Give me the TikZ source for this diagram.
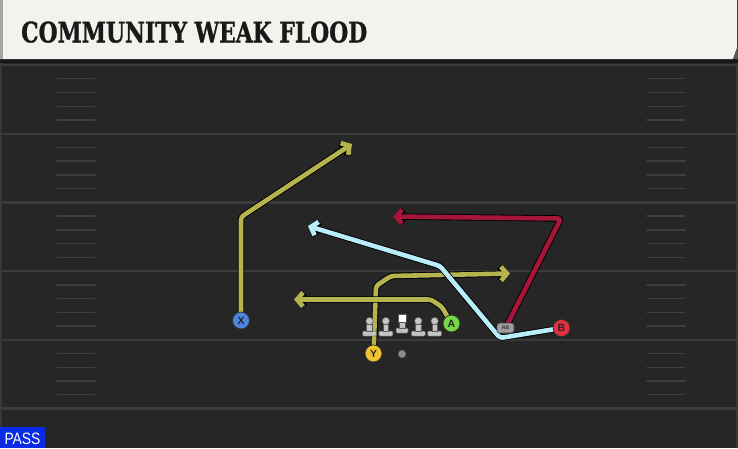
\documentclass[tikz,border=0pt]{standalone}
\usepackage{fontspec}
\setmainfont{Liberation Sans}
\newfontfamily\titlefont[FakeBold=1.2]{DejaVu Serif}
\usetikzlibrary{arrows.meta}
\pgfdeclarelayer{field}
\pgfdeclarelayer{routes}
\pgfsetlayers{field,routes,main}
\definecolor{fieldbg}{HTML}{262626}
\definecolor{shadowc}{HTML}{171717}
\definecolor{bannerc}{HTML}{F4F2EC}
\definecolor{yardc}{HTML}{3B3B3B}
\definecolor{hashc}{HTML}{3E3E3E}
\definecolor{oliveroute}{HTML}{B6B44E}
\definecolor{cyanroute}{HTML}{B8EEFA}
\definecolor{redroute}{HTML}{A6163A}
\definecolor{xblue}{HTML}{4A86E2}
\definecolor{yyellow}{HTML}{F2C230}
\definecolor{agreen}{HTML}{74D848}
\definecolor{bred}{HTML}{E5303F}
\definecolor{passblue}{HTML}{0A2BE6}
\definecolor{linefill}{HTML}{C4C4C4}
\tikzset{
  route/.style={line width=4.6pt, line join=round, rounded corners=3pt,
    -{Straight Barb[length=6pt,width=14pt]},
    preaction={draw=black, line width=6.4pt}},
  player/.style={circle, minimum size=17pt, inner sep=0pt, draw=black!80,
    line width=0.8pt, font=\bfseries\fontsize{10.5}{10.5}\selectfont, text=black!85},
  yard/.style={draw=yardc, line width=2.2pt},
  hash/.style={draw=hashc, line width=1.4pt, line cap=round},
  lineman/.pic={
    \filldraw[fill=linefill, draw=black!65, line width=0.5pt, rounded corners=1pt]
      (-7,0) rectangle (7,5);
    \filldraw[fill=linefill, draw=black!65, line width=0.5pt] (-2.8,-7) rectangle (2.8,0.3);
    \filldraw[fill=linefill, draw=black!65, line width=0.5pt] (0,-10) circle (3.7pt);
  },
  centerman/.pic={
    \filldraw[fill=linefill, draw=black!65, line width=0.5pt, rounded corners=1pt]
      (-6,0) rectangle (6,5);
    \filldraw[fill=linefill, draw=black!65, line width=0.5pt] (-2.8,-6) rectangle (2.8,0.3);
    \filldraw[fill=white, draw=black!65, line width=0.5pt] (-4.2,-14) rectangle (4.2,-6);
  }
}
\begin{document}
\begin{tikzpicture}[x=1pt,y=-1pt]
\useasboundingbox (0,0) rectangle (738,448);
\begin{pgfonlayer}{field}
  \fill[fieldbg] (0,0) rectangle (738,448);
  \fill[shadowc] (0,57) rectangle (738,63);
  \draw[draw=black!12!fieldbg!90!white, line width=1.5pt] (1,63) -- (1,448) (737,63) -- (737,448);
  \foreach \s in {0,...,5} \draw[yard] (0,{65+68.7*\s}) -- (738,{65+68.7*\s});
  \foreach \s in {0,...,4} \foreach \k in {1,...,4}
    \draw[hash] (57,{65+68.7*\s+13.74*\k}) -- (95,{65+68.7*\s+13.74*\k})
                (647,{65+68.7*\s+13.74*\k}) -- (685,{65+68.7*\s+13.74*\k});
  \fill[bannerc] (0,0) -- (737,0) -- (737,48) -- (733,59) -- (0,59) -- cycle;
  \fill[black!65] (737,48) -- (738,48) -- (738,59) -- (733,59) -- cycle;
  \fill[black!35] (0,0) rectangle (3,59);
\end{pgfonlayer}

\node[anchor=south west, inner sep=0pt, text=black!90] (title) at (21,43)
  {\resizebox{346pt}{21pt}{\titlefont\bfseries COMMUNITY WEAK FLOOD}};

% players
\node[player, fill=xblue] (X) at (241,320.5) {X};
\node[player, fill=yyellow] (Y) at (373.5,353.5) {Y};
\node[player, fill=agreen] (A) at (451.5,323.5) {A};
\node[player, fill=bred] (B) at (561.5,328) {B};
\node[draw=black!75, fill=black!38, line width=0.6pt, rounded corners=2.5pt,
  minimum width=17pt, minimum height=10pt, inner sep=0pt,
  font=\bfseries\fontsize{5}{5}\selectfont, text=black!80] (RB) at (505.5,328) {RB};
\node[circle, fill=black!45, draw=black!70, line width=0.5pt, minimum size=8pt,
  inner sep=0pt] (ball) at (402,354) {};

% linemen
\foreach \lx in {369.5,385.8,418.3,434.6} \pic at (\lx,331) {lineman};
\pic at (402,328) {centerman};

% route points
\coordinate (x1) at (241,217);
\coordinate (xe) at (352,144);
\coordinate (y1) at (376,286);
\coordinate (y2) at (391,276);
\coordinate (ye) at (510,273.5);
\coordinate (a1) at (442,307);
\coordinate (a2) at (431,299.5);
\coordinate (ae) at (294,299.5);
\coordinate (b1) at (500,338);
\coordinate (b2) at (440,266);
\coordinate (be) at (308,226);
\coordinate (r1) at (561,218.5);
\coordinate (re) at (393,216.5);

\begin{pgfonlayer}{routes}
  \draw[route, oliveroute] (X.center) -- (x1) -- (xe);
  \draw[route, oliveroute] (Y.center) -- (y1) -- (y2) -- (ye);
  \draw[route, oliveroute] (A.center) -- (a1) -- (a2) -- (ae);
  \draw[route, cyanroute] (B.center) -- (b1) -- (b2) -- (be);
  \draw[route, redroute] (RB.center) -- (r1) -- (re);
\end{pgfonlayer}

\node[fill=passblue, anchor=south west, inner sep=0pt, minimum width=45pt,
  minimum height=21pt] (pass) at (0,448) {};
\node[inner sep=0pt, text=white] (passtext) at (22.5,439.2)
  {\resizebox{36pt}{11.5pt}{PASS}};
\end{tikzpicture}
\end{document}
